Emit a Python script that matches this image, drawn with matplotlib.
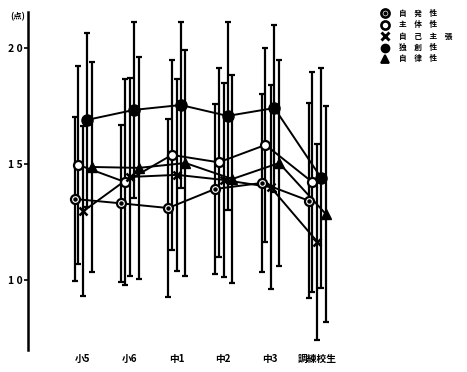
import matplotlib
matplotlib.use("Agg")
import matplotlib.pyplot as plt

plt.rcParams['font.family'] = ['Noto Sans CJK JP', 'DejaVu Sans']

categories = ['小5', '小6', '中1', '中2', '中3', '調練校生']
series_names = ['自　発　性', '主　体　性', '自　己　主　張', '独　創　性', '自　律　性']

mean_jihatsu = [13.49, 13.30, 13.10, 13.92, 14.18, 13.42]
mean_shutai  = [14.96, 14.22, 15.39, 15.07, 15.82, 14.22]
mean_jiko    = [12.97, 14.44, 14.53, 14.31, 14.00, 11.64]
mean_dokuso  = [16.90, 17.33, 17.54, 17.07, 17.41, 14.40]
mean_jiritsu = [14.87, 14.83, 15.04, 14.35, 15.04, 12.84]

sd_jihatsu = [3.55, 3.40, 3.83, 3.66, 3.85, 4.20]
sd_shutai  = [4.26, 4.44, 4.10, 4.08, 4.18, 4.74]
sd_jiko    = [3.67, 4.25, 4.14, 4.18, 4.39, 4.22]
sd_dokuso  = [3.75, 3.79, 3.57, 4.05, 3.60, 4.74]
sd_jiritsu = [4.53, 4.78, 4.87, 4.48, 4.44, 4.65]

y_ticks = [10, 15, 20]
y_ticklabels = ['1 0', '1 5', '2 0']

means = [mean_jihatsu, mean_shutai, mean_jiko, mean_dokuso, mean_jiritsu]
sds = [sd_jihatsu, sd_shutai, sd_jiko, sd_dokuso, sd_jiritsu]
offsets = [-0.18, -0.10, 0.01, 0.09, 0.19]

# marker styles per series: list of (marker, size, facecolor, edgewidth)
styles = [
    [('o', 6.5, 'white', 1.6), ('o', 2.2, 'black', 1.0)],
    [('o', 6.5, 'white', 1.6)],
    [('x', 5.5, 'black', 1.8)],
    [('o', 8.0, 'black', 1.0)],
    [('^', 6.5, 'black', 1.0)],
]

fig = plt.figure(figsize=(4.67, 3.72), dpi=100)
ax = fig.add_axes([28/467, 22/372, 332/467, 338/372])

for k in range(5):
    xs = [i + offsets[k] for i in range(len(categories))]
    ax.errorbar(xs, means[k], yerr=sds[k], fmt='none', ecolor='black',
                elinewidth=1.6, capsize=2.5, capthick=1.6, zorder=2)

for k in range(5):
    xs = [i + offsets[k] for i in range(len(categories))]
    ax.plot(xs, means[k], color='black', lw=1.4, zorder=3)
    for j, (m, s, fc, mw) in enumerate(styles[k]):
        ax.plot(xs, means[k], ls='none', marker=m, ms=s, mfc=fc, mec='black',
                mew=mw, zorder=4 + j)

ax.set_xlim(-1.175, 5.92)
ax.set_ylim(6.98, 21.55)
for s in ['top', 'right', 'bottom']:
    ax.spines[s].set_visible(False)
ax.spines['left'].set_linewidth(1.8)
ax.set_yticks(y_ticks)
ax.set_yticklabels(y_ticklabels, fontsize=7.5, fontweight='bold')
ax.tick_params(axis='y', direction='out', length=3, width=1.2, pad=1)
ax.set_xticks(range(len(categories)))
ax.set_xticklabels(categories, fontsize=7, fontweight='bold')
ax.tick_params(axis='x', length=0, pad=3)

fig.text(10/467, 1 - 17/372, '(点)', fontsize=6, fontweight='bold', va='center', ha='left')

# legend drawn in a pixel-coordinate overlay
lax = fig.add_axes([0, 0, 1, 1], facecolor='none')
lax.set_xlim(0, 467)
lax.set_ylim(372, 0)
lax.axis('off')
leg_y = [13, 24.5, 36, 47.5, 59]
leg_scale = [0.9, 0.9, 1.0, 0.75, 0.85]
for k in range(5):
    for j, (m, s, fc, mw) in enumerate(styles[k]):
        lax.plot([385], [leg_y[k]], ls='none', marker=m, ms=s * leg_scale[k], mfc=fc,
                 mec='black', mew=(mw + 0.3 if (m != 'o' or fc == 'white') else mw),
                 zorder=4 + j)
    lax.text(399, leg_y[k], series_names[k], fontsize=5.5, fontweight='bold',
             va='center', ha='left')

fig.savefig('out.png', dpi=100)
